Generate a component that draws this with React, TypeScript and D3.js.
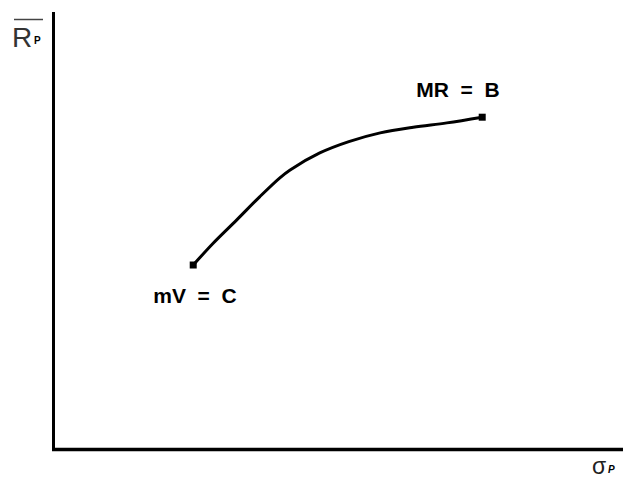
import React from "react";
import * as d3 from "d3";

const sigma = [24.6, 28.1, 32.2, 36.3, 39.8, 41.6, 46.8, 51.9, 57.4, 63.2, 69.1, 75.3];
const ret = [42.2, 47.2, 52.5, 57.9, 62.2, 64.0, 67.9, 70.5, 72.5, 73.8, 74.8, 76.1];
const pointLabels = ["mV = C", "MR = B"];

const W = 623;
const H = 479;

export default function App() {
  const x = d3.scaleLinear().domain([0, 100]).range([53, 623]);
  const y = d3.scaleLinear().domain([0, 100]).range([449, 13]);
  const pts: [number, number][] = sigma.map((s, i) => [s, ret[i]]);
  const line = d3
    .line<[number, number]>()
    .x((d) => x(d[0]))
    .y((d) => y(d[1]))
    .curve(d3.curveCatmullRom.alpha(0.5));
  const first = pts[0];
  const last = pts[pts.length - 1];
  const font = "Liberation Sans, Arial, sans-serif";
  return (
    <div style={{ position: "fixed", left: 0, top: 0, width: W, height: H, background: "#fff" }}>
      <svg width={W} height={H} style={{ display: "block" }}>
        <rect x={0} y={0} width={W} height={H} fill="#fff" />
        {/* axes */}
        <line x1={53.5} y1={12} x2={53.5} y2={451} stroke="#000" strokeWidth={3} />
        <line x1={52} y1={449.5} x2={623} y2={449.5} stroke="#000" strokeWidth={3.5} />
        {/* curve */}
        <path d={line(pts) || ""} fill="none" stroke="#000" strokeWidth={3} />
        <rect x={x(first[0]) - 3.5} y={y(first[1]) - 3.5} width={7} height={7} fill="#000" />
        <rect x={x(last[0]) - 3.5} y={y(last[1]) - 3.5} width={7} height={7} fill="#000" />
        {/* point labels */}
        <text
          x={x(first[0]) - 40}
          y={y(first[1]) + 38}
          fontFamily={font}
          fontWeight="bold"
          fontSize={21}
          style={{ whiteSpace: "pre" }}
          fill="#000"
        >
          {pointLabels[0].replace(/ /g, "\u00a0\u00a0")}
        </text>
        <text
          x={x(last[0]) - 66}
          y={y(last[1]) - 20}
          fontFamily={font}
          fontWeight="bold"
          fontSize={21}
          style={{ whiteSpace: "pre" }}
          fill="#000"
        >
          {pointLabels[1].replace(/ /g, "\u00a0\u00a0")}
        </text>
        {/* axis titles */}
        <line x1={14} y1={19.5} x2={43} y2={19.5} stroke="#444" strokeWidth={1.5} />
        <text x={12} y={47} fontFamily={font} fontSize={28} fill="#333">
          R
        </text>
        <text x={34} y={44} fontFamily={font} fontWeight="bold" fontSize={10} fill="#000">
          P
        </text>
        <text x={592} y={474} fontFamily={font} fontSize={23} fill="#222">
          σ
        </text>
        <text x={608} y={473} fontFamily={font} fontWeight="bold" fontStyle="italic" fontSize={10} fill="#000">
          P
        </text>
      </svg>
    </div>
  );
}
